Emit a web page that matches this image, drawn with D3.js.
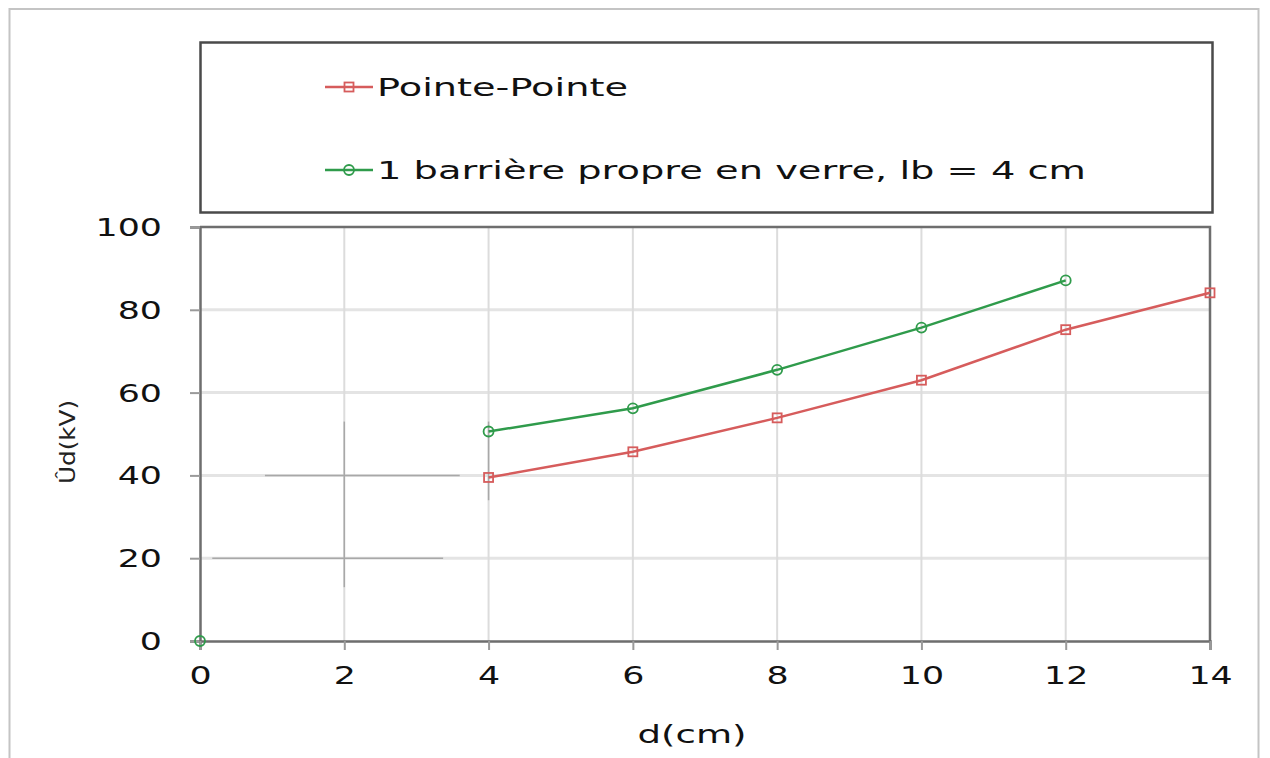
<!DOCTYPE html>
<html><head><meta charset="utf-8">
<script src="https://cdn.jsdelivr.net/npm/d3@7"></script>
<style>body{margin:0;background:#fff}svg{display:block}</style>
</head><body>
<svg id="c" width="1270" height="758"></svg>
<script>
// ---- data ----
const xTicks = [0, 2, 4, 6, 8, 10, 12, 14];
const yTicks = [0, 20, 40, 60, 80, 100];
const seriesNames = ["Pointe-Pointe", "1 barrière propre en verre, lb = 4 cm"];
const pointeX = [4, 6, 8, 10, 12, 14];
const pointeY = [39.5, 45.7, 53.9, 63.0, 75.2, 84.1];
const barriereX = [4, 6, 8, 10, 12];
const barriereY = [50.6, 56.2, 65.5, 75.7, 87.1];
const originPoint = [[0, 0]];
// darker leftover grid fragments visible in the reference (data units)
const fragmentsV = [[2, 13, 53], [4, 34, 53]];
const fragmentsH = [[40, 0.9, 3.6], [20, 0.17, 3.37]];
const xTitle = "d(cm)";
const yTitle = "Ûd(kV)";

// ---- layout ----
const svg = d3.select("#c");
const L = 200, R = 1210, T = 227, B = 641;
const x = d3.scaleLinear().domain([0, 14]).range([L, R]);
const y = d3.scaleLinear().domain([0, 100]).range([B, T]);
const red = "#d65c5c", green = "#2f9b4b";
const font = "'DejaVu Sans', Verdana, sans-serif";

// outer frame
svg.append("rect").attr("x", 9.5).attr("y", 9).attr("width", 1249).attr("height", 770)
  .attr("fill", "none").attr("stroke", "#c4c4c4").attr("stroke-width", 2);

// legend box
svg.append("rect").attr("x", 200.5).attr("y", 42.5).attr("width", 1012).attr("height", 170)
  .attr("fill", "#fff").attr("stroke", "#4a4a4a").attr("stroke-width", 2.5);

// gridlines
svg.append("g").selectAll("line").data(yTicks.filter(d => d > 0 && d < 100)).join("line")
  .attr("x1", L).attr("x2", R).attr("y1", d => y(d)).attr("y2", d => y(d))
  .attr("stroke", "#e4e4e4").attr("stroke-width", 3);
svg.append("g").selectAll("line").data(xTicks.filter(d => d > 0 && d < 14)).join("line")
  .attr("x1", d => x(d)).attr("x2", d => x(d)).attr("y1", T).attr("y2", B)
  .attr("stroke", "#dcdcdc").attr("stroke-width", 2);

// fragments
svg.append("g").selectAll("line").data(fragmentsV).join("line")
  .attr("x1", d => x(d[0])).attr("x2", d => x(d[0])).attr("y1", d => y(d[1])).attr("y2", d => y(d[2]))
  .attr("stroke", "#a8a8a8").attr("stroke-width", 1.5);
svg.append("g").selectAll("line").data(fragmentsH).join("line")
  .attr("y1", d => y(d[0])).attr("y2", d => y(d[0])).attr("x1", d => x(d[1])).attr("x2", d => x(d[2]))
  .attr("stroke", "#a8a8a8").attr("stroke-width", 1.5);

// plot border (top/right)
svg.append("path").attr("d", `M${L},${T}H${R}V${B}`).attr("fill", "none")
  .attr("stroke", "#6e6e6e").attr("stroke-width", 2.5);

// axes
const yAxis = svg.append("g").attr("transform", `translate(${L},0)`)
  .call(d3.axisLeft(y).tickValues(yTicks).tickSize(10).tickFormat(d3.format("d")));
const xAxis = svg.append("g").attr("transform", `translate(0,${B})`)
  .call(d3.axisBottom(x).tickValues(xTicks).tickSize(9).tickFormat(d3.format("d")));
[yAxis, xAxis].forEach(a => {
  a.select(".domain").attr("stroke", "#6e6e6e").attr("stroke-width", 2.5);
  a.selectAll(".tick line").attr("stroke", "#9a9a9a").attr("stroke-width", 2);
  a.selectAll(".tick text").attr("font-family", font).attr("font-size", 24).attr("fill", "#111");
});
yAxis.selectAll(".tick text").attr("x", 0).attr("text-anchor", "end").attr("dy", "0.35em")
  .attr("transform", "translate(-38,0) scale(1.45,1)");
xAxis.selectAll(".tick text").attr("y", 0).attr("dy", "0")
  .attr("transform", "translate(0,43) scale(1.45,1)");

// series
const line = d3.line().x(d => x(d[0])).y(d => y(d[1]));
const pData = pointeX.map((v, i) => [v, pointeY[i]]);
const bData = barriereX.map((v, i) => [v, barriereY[i]]);
svg.append("path").datum(pData).attr("d", line).attr("fill", "none").attr("stroke", red).attr("stroke-width", 2.5);
svg.append("path").datum(bData).attr("d", line).attr("fill", "none").attr("stroke", green).attr("stroke-width", 2.5);
svg.append("g").selectAll("rect").data(pData).join("rect")
  .attr("x", d => x(d[0]) - 4.5).attr("y", d => y(d[1]) - 4.5).attr("width", 9).attr("height", 9)
  .attr("fill", "none").attr("stroke", red).attr("stroke-width", 1.8);
svg.append("g").selectAll("circle").data(bData.concat(originPoint)).join("circle")
  .attr("cx", d => x(d[0])).attr("cy", d => y(d[1])).attr("r", 5)
  .attr("fill", "none").attr("stroke", green).attr("stroke-width", 1.8);

// legend entries
const lg = [
  { name: seriesNames[0], color: red, yy: 87, w: 251, m: "sq" },
  { name: seriesNames[1], color: green, yy: 170, w: 709, m: "ci" }
];
lg.forEach(e => {
  svg.append("line").attr("x1", 325).attr("x2", 373).attr("y1", e.yy).attr("y2", e.yy)
    .attr("stroke", e.color).attr("stroke-width", 2.5);
  if (e.m === "sq") svg.append("rect").attr("x", 344.5).attr("y", e.yy - 4.5).attr("width", 9).attr("height", 9)
    .attr("fill", "none").attr("stroke", e.color).attr("stroke-width", 1.8);
  else svg.append("circle").attr("cx", 349).attr("cy", e.yy).attr("r", 5)
    .attr("fill", "none").attr("stroke", e.color).attr("stroke-width", 1.8);
  svg.append("text").attr("x", 377).attr("y", e.yy + 9).attr("font-family", font).attr("font-size", 25)
    .attr("fill", "#111").attr("textLength", e.w).attr("lengthAdjust", "spacingAndGlyphs").text(e.name);
});

// axis titles
svg.append("text").attr("x", 692).attr("y", 743).attr("text-anchor", "middle").attr("font-family", font)
  .attr("font-size", 25).attr("fill", "#111").attr("textLength", 109).attr("lengthAdjust", "spacingAndGlyphs").text(xTitle);
svg.append("text").attr("transform", "translate(75,442) rotate(-90)").attr("text-anchor", "middle")
  .attr("font-family", font).attr("font-size", 22).attr("fill", "#222")
  .attr("textLength", 84).attr("lengthAdjust", "spacingAndGlyphs").text(yTitle);
</script>
</body></html>
